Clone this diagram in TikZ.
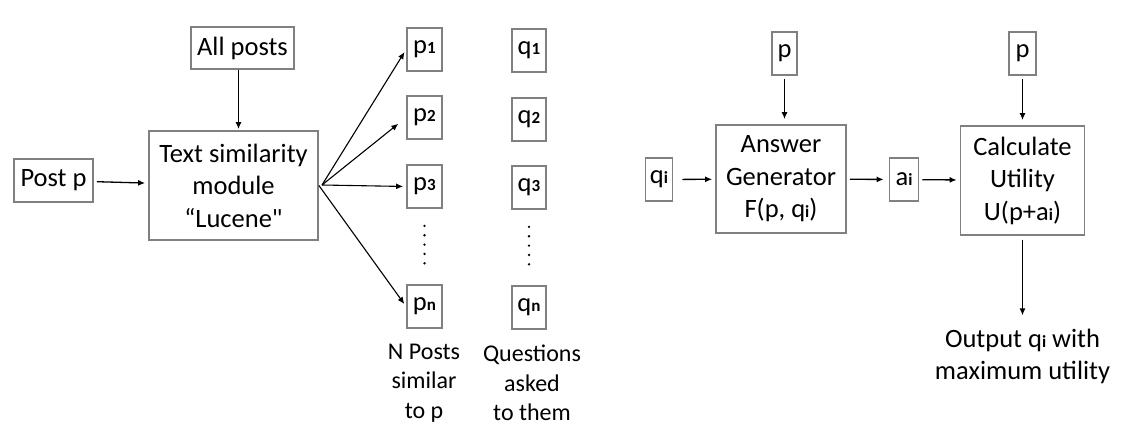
\documentclass[tikz,border=0pt]{standalone}
\usepackage{fontspec}
\setmainfont{Carlito}
\newfontfamily\quotefont[Ligatures=TeXOff]{Carlito}
\usetikzlibrary{arrows.meta}

\definecolor{boxgray}{RGB}{128,128,128}
\newcommand\boxfont{\fontsize{26.5}{32.5}\selectfont}
\newcommand\labfont{\fontsize{24}{29.5}\selectfont}
\newcommand\sbs[1]{{\fontsize{17}{17}\selectfont\bfseries #1}}

\tikzset{
	>={Latex[length=7pt,width=6pt]},
	box/.style={draw=boxgray, line width=1.8pt, inner sep=0pt, align=center, font=\boxfont},
	small/.style={box, minimum height=43pt},
	lab/.style={align=center, font=\labfont},
	link/.style={->, line width=1.3pt, shorten <=3pt, shorten >=3pt},
	fanlink/.style={->, line width=1.1pt, shorten >=3pt},
	dots/.style={line width=2.6pt, line cap=round, dash pattern=on 0pt off 9.35pt, shorten <=17pt, shorten >=13pt}
}

\begin{document}
\begin{tikzpicture}[x=1pt, y=-1pt]
	\useasboundingbox (0,0) rectangle (1133,442);

	% retrieval of similar posts
	\node[box, minimum width=79pt, minimum height=43pt] (post) at (53.5,180.5) {Post p};
	\node[box, minimum width=103pt, minimum height=42pt] (all) at (242.5,48) {All posts};
	\node[box, minimum width=169pt, minimum height=109pt] (ts) at (233.5,185.5) {Text similarity\\module\\“Lucene{\quotefont"}};

	\node[small, minimum width=35pt] (p1) at (424.5,49.5) {p\sbs{1}};
	\node[small, minimum width=35pt] (p2) at (424.5,117.5) {p\sbs{2}};
	\node[small, minimum width=35pt] (p3) at (424.5,186.5) {p\sbs{3}};
	\node[small, minimum width=35pt] (pn) at (424.5,306.5) {p\sbs{n}};

	\node[small, minimum width=34pt] (q1) at (529,50.5) {q\sbs{1}};
	\node[small, minimum width=34pt] (q2) at (529,119.5) {q\sbs{2}};
	\node[small, minimum width=34pt] (q3) at (529,187.5) {q\sbs{3}};
	\node[small, minimum width=34pt] (qn) at (529,307.5) {q\sbs{n}};

	\node[lab] (plab) at (424,383) {N Posts\\similar\\to p};
	\node[lab] (qlab) at (532,383) {Questions\\asked\\to them};

	\coordinate (fan) at (322,185);

	\path[link] (post) edge (ts)
	([xshift=-4pt]all.south) edge[shorten <=0pt, shorten >=1pt] ([xshift=-4pt]all.south |- ts.north);
	\path[fanlink] (fan) edge (p1.west)
	(fan) edge[shorten >=10pt] (p2.west)
	(fan) edge (p3.west)
	(ts.east) edge (pn.west);
	\draw[dots] (p3) -- (pn);
	\draw[dots] (q3) -- (qn);

	% answer generation and utility
	\node[small, minimum width=27pt] (qi) at (659,179.5) {q\sbs{i}};
	\node[small, minimum width=25pt] (pa) at (784.5,53.5) {p};
	\node[box, minimum width=130pt, minimum height=108pt] (ag) at (781,179) {Answer\\Generator\\F(p, q\sbs{i})};
	\node[small, minimum width=29pt] (ai) at (904,179.5) {a\sbs{i}};
	\node[small, minimum width=27pt] (pb) at (1022.5,53.5) {p};
	\node[box, minimum width=124pt, minimum height=109pt] (cu) at (1022.5,180.5) {Calculate\\Utility\\U(p+a\sbs{i})};
	\node[lab, font=\boxfont] (out) at (1022.5,356.5) {Output q\sbs{i} with\\maximum utility};

	\path[link] (qi) edge[shorten <=9pt] (ag)
	(ag) edge[shorten >=5pt] (ai)
	(ai) edge (cu)
	(pa) edge[shorten >=5pt] (pa |- ag.north)
	(pb) edge[shorten >=5pt] (pb |- cu.north)
	(cu) edge[shorten <=4pt, shorten >=10pt] (out);
\end{tikzpicture}
\end{document}
